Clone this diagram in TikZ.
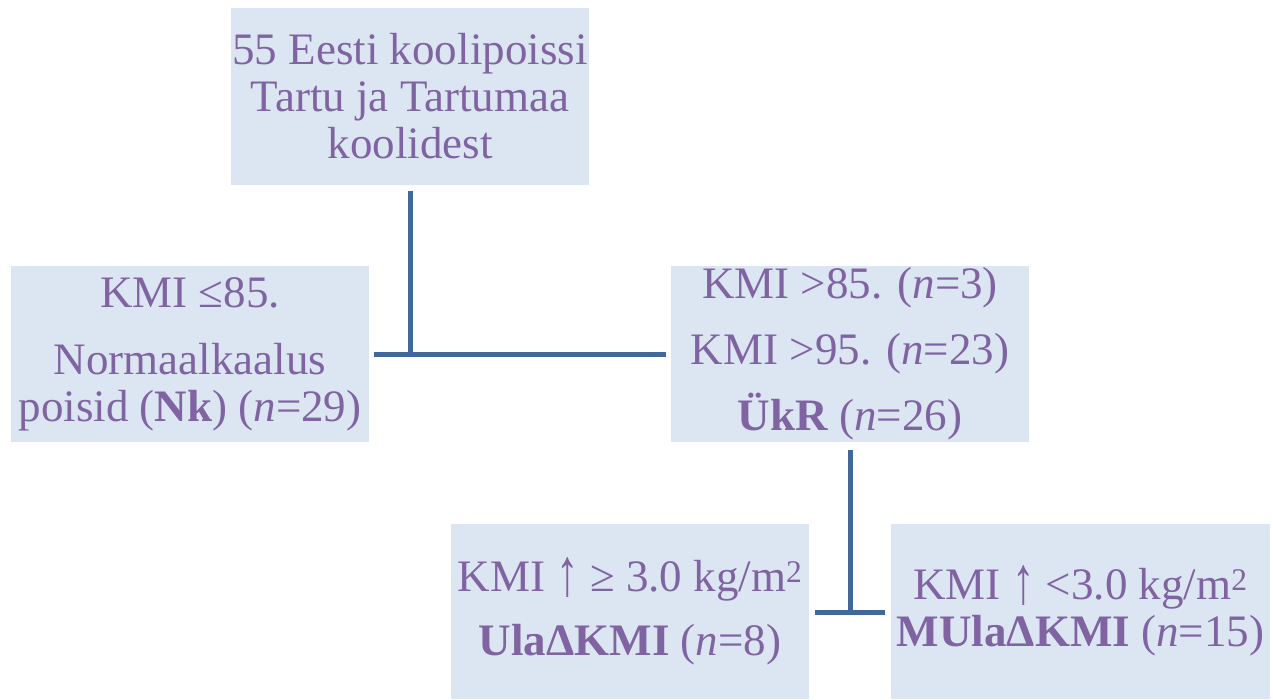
\documentclass[tikz,border=0pt]{standalone}
\usepackage{fontspec}
\usepackage{graphicx}
\setmainfont{Liberation Serif}
\definecolor{boxfill}{HTML}{DCE6F2}
\definecolor{txtc}{HTML}{8064A2}
\definecolor{linec}{HTML}{41689C}
\newcommand{\uparr}{\raisebox{-4pt}{\scalebox{1}[1.5]{↑}}}
\tikzset{
  box/.style={fill=boxfill, draw=none, text=txtc, align=center, inner sep=1pt,
    font=\fontsize{45}{47}\selectfont, minimum height=176pt},
  conn/.style={draw=linec, line width=5pt}
}
\begin{document}
\begin{tikzpicture}[x=1pt,y=-1pt]
\useasboundingbox (0,0) rectangle (1273,699);
\node[box, minimum width=358pt, minimum height=177pt] (top) at (410,96) {55 Eesti koolipoissi\\Tartu ja Tartumaa\\koolidest};
\node[box, minimum width=358pt] (left) at (190,354) {KMI ≤85.\\[20pt]Normaalkaalus\\poisid (\textbf{Nk}) (\textit{n}=29)};
\node[box, minimum width=358pt] (right) at (850,354) {KMI >85. (\textit{n}=3)\\[19pt]KMI >95. (\textit{n}=23)\\[18pt]\textbf{ÜkR} (\textit{n}=26)};
\node[box, minimum width=358pt, minimum height=175pt] (bl) at (630,611) {KMI \uparr\ ≥ 3.0 kg/m\textsuperscript{2}\\[17pt]\textbf{UlaΔKMI} (\textit{n}=8)};
\node[box, minimum width=379pt, minimum height=175pt] (br) at (1080.5,611) {KMI \uparr\ <3.0 kg/m\textsuperscript{2}\\\textbf{MUlaΔKMI} (\textit{n}=15)};
\coordinate (j1) at (410,354);
\coordinate (j2) at (850,612);
\draw[conn] ([yshift=-6pt]top.south) -- (j1);
\draw[conn] ([xshift=5pt]left.east) -- ([xshift=-5pt]right.west);
\draw[conn] ([yshift=-8pt]right.south) -- ([yshift=-2.5pt]j2);
\draw[conn] ([xshift=6pt]bl.east |- j2) -- ([xshift=-6pt]br.west |- j2);
\end{tikzpicture}
\end{document}
